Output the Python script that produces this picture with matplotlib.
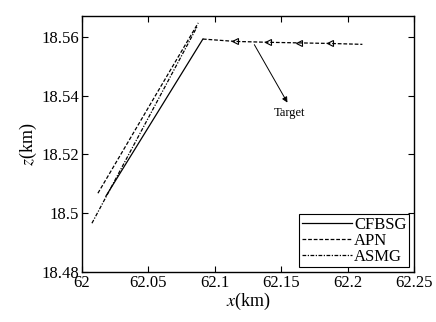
import matplotlib.pyplot as plt

plt.rcParams["font.family"] = ["Liberation Serif", "DejaVu Serif"]
plt.rcParams["mathtext.fontset"] = "stix"

# trajectories (km)
cfbsg_x = [62.018, 62.091]
cfbsg_z = [18.5058, 18.5592]
apn_x = [62.012, 62.0875]
apn_z = [18.5068, 18.5647]
asmg_x = [62.0075, 62.087]
asmg_z = [18.4966, 18.5637]

# target track
target_x = [62.091, 62.115, 62.140, 62.163, 62.187, 62.211]
target_z = [18.5592, 18.5584, 18.5581, 18.5579, 18.5577, 18.5574]

fig = plt.figure(figsize=(4.36, 3.22), dpi=100)
ax = fig.add_axes([0.188, 0.155, 0.762, 0.795])

ax.plot(cfbsg_x, cfbsg_z, "k-", lw=0.9, label="CFBSG")
ax.plot(apn_x, apn_z, "k--", lw=0.9, dashes=(3, 1.5), label="APN")
ax.plot(asmg_x, asmg_z, "k-.", lw=0.9, dashes=(3, 1.2, 1, 1.2), label="ASMG")
ax.plot(target_x, target_z, "k--", lw=0.9, dashes=(3, 1.5))
ax.plot(target_x[1:5], target_z[1:5], "k<", ms=5, mfc="none", mew=0.8, ls="none")

# arrow + label for the target
ax.annotate("", xy=(62.1546, 18.5376), xytext=(62.1297, 18.5573),
            arrowprops=dict(arrowstyle="-|>", color="k", lw=0.7,
                            mutation_scale=8, shrinkA=0, shrinkB=0))
ax.text(62.1565, 18.5341, "Target", fontsize=9, ha="center", va="center")

ax.set_xlim(62, 62.25)
ax.set_ylim(18.48, 18.567)
ax.set_xticks([62, 62.05, 62.1, 62.15, 62.2, 62.25])
ax.set_xticklabels(["62", "62.05", "62.1", "62.15", "62.2", "62.25"])
ax.set_yticks([18.48, 18.5, 18.52, 18.54, 18.56])
ax.set_yticklabels(["18.48", "18.5", "18.52", "18.54", "18.56"])
ax.tick_params(direction="in", top=True, right=True, labelsize=12, length=4, width=0.8, pad=2)
for s in ax.spines.values():
    s.set_linewidth(1.0)

ax.set_xlabel(r"$x$(km)", fontsize=13, labelpad=0)
ax.set_ylabel(r"$z$(km)", fontsize=13, labelpad=2)

leg = ax.legend(loc="lower right", fontsize=12, fancybox=False, framealpha=1,
                edgecolor="k", borderpad=0.15, labelspacing=0.0,
                handlelength=3.0, handletextpad=0.15, borderaxespad=0.3)
leg.get_frame().set_linewidth(0.8)

plt.savefig("out.png", dpi=100)
